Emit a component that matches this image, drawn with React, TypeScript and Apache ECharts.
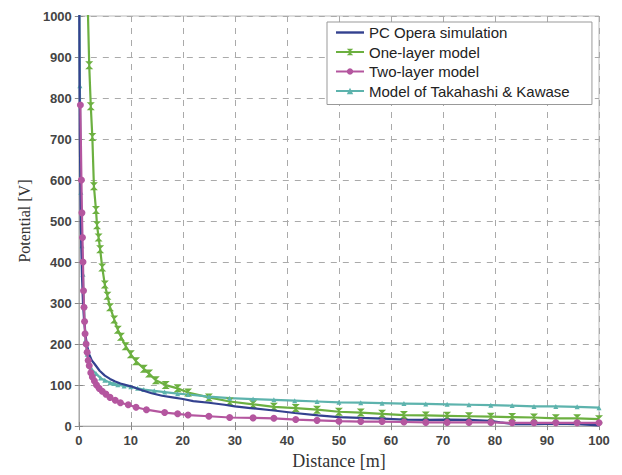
import React, { useEffect, useRef } from "react";
import * as echarts from "echarts";

const seriesNames = [
  "PC Opera simulation",
  "One-layer model",
  "Two-layer model",
  "Model of Takahashi & Kawase",
];

const xTicks = [0, 10, 20, 30, 40, 50, 60, 70, 80, 90, 100];
const yTicks = [0, 100, 200, 300, 400, 500, 600, 700, 800, 900, 1000];

const operaX = [0.05, 0.2, 0.4, 0.6, 0.8, 1.0, 1.3, 1.6, 2.0, 2.5, 3, 4, 5, 6, 7, 8, 10, 12, 14, 16, 18, 20, 22, 25, 28, 30, 33, 37.5, 41.5, 46, 50, 54, 58.5, 62.5, 66.7, 71, 75, 79, 81, 83.5, 87.5, 91.7, 96, 100];
const operaY = [1150, 700, 480, 370, 300, 260, 220, 195, 175, 160, 152, 135, 123, 115, 109, 104, 97, 88, 80, 74, 70, 66, 61, 57, 52, 48, 44, 38, 32, 26, 22, 20, 18, 16, 15, 16, 15, 13, 9, 5, 5, 6, 5, 2];

const oneX = [1.65, 2.0, 2.3, 2.6, 2.9, 3.3, 3.5, 3.8, 4.1, 4.5, 5.0, 5.5, 6.0, 6.8, 7.5, 8.1, 9.0, 10, 11, 12.5, 13.5, 14.8, 16.7, 19, 21, 25, 29, 33.5, 37.5, 41.7, 45.8, 50, 54.2, 58.3, 62.5, 66.7, 70.8, 75, 79.2, 83.3, 87.5, 91.7, 95.8, 100];
const oneY = [1060, 880, 780, 705, 585, 527, 490, 460, 431, 387, 345, 318, 290, 260, 235, 218, 195, 175, 158, 140, 128, 112, 100, 92, 82, 70, 60, 53, 47, 44, 40, 35, 33, 30, 27, 26, 25, 24, 23, 22, 21, 19, 19, 17];

const twoX = [0.3, 0.5, 0.6, 0.7, 0.8, 0.9, 1.0, 1.1, 1.2, 1.4, 1.6, 1.8, 2.0, 2.3, 2.6, 3.0, 3.4, 3.9, 4.5, 5.2, 6.0, 7.0, 8.0, 9.5, 11, 13, 16.5, 19, 21, 25, 29, 33.5, 37.5, 41.7, 45.8, 50, 54.2, 58.3, 62.5, 66.7, 70.8, 75, 79.2, 83.3, 87.5, 91.7, 95.8, 100];
const twoY = [783, 600, 520, 460, 400, 330, 290, 255, 225, 200, 180, 160, 147, 130, 120, 110, 100, 92, 85, 78, 70, 63, 57, 52, 46, 40, 33, 30, 27, 24, 21, 20, 19, 16, 14, 12, 11, 11, 10, 9, 9, 9, 9, 8, 8, 8, 8, 8];

const takX = [0.05, 0.2, 0.4, 0.6, 0.8, 1.0, 1.3, 1.6, 2.0, 2.5, 3.3, 4.2, 5, 6, 6.7, 7.5, 8.7, 10, 11.3, 12.5, 14.5, 16.5, 19, 21, 25, 29, 33.5, 37.5, 41.5, 45.8, 50, 54.2, 58.3, 62.5, 66.7, 70.8, 75, 79.2, 83.3, 87.5, 91.7, 95.8, 100];
const takY = [1150, 830, 570, 440, 370, 290, 210, 175, 150, 138, 128, 117, 112, 106, 104, 101, 98, 96, 92, 89, 86, 83, 79, 77, 72, 68, 66, 64, 62, 60, 58, 57, 56, 55, 54, 53, 52, 51, 50, 48, 48, 47, 45];

const colors = ["#33418f", "#6cb040", "#b4569f", "#5db3ad"];

const pairs = (xs: number[], ys: number[]) => xs.map((x, i) => [x, ys[i]]);

const bowtie = "path://M0,0L10,0L5,5L10,10L0,10L5,5Z";
const lineIcon = "path://M0,0L28,0L28,2.4L0,2.4Z";

export default function App() {
  const ref = useRef<HTMLDivElement>(null);
  useEffect(() => {
    if (!ref.current) return;
    const chart = echarts.init(ref.current, undefined, { renderer: "svg" });
    const tickLabel = { color: "#444", fontSize: 13, fontWeight: "bold" as const, fontFamily: "Liberation Sans, Arial, sans-serif" };
    const axisLine = { show: true, lineStyle: { color: "#aaa", width: 1 } };
    const axisTick = { show: true, inside: true, length: 4, lineStyle: { color: "#888" } };
    const splitLine = { show: true, lineStyle: { color: "#aaa", type: [6, 6] as any, width: 1 } };
    chart.setOption({
      animation: false,
      backgroundColor: "#fff",
      grid: { left: 70, right: 23, top: 8, bottom: 48, show: true, borderColor: "#bbb", borderWidth: 1, backgroundColor: "#fff" },
      legend: {
        orient: "vertical",
        left: 319,
        top: 14,
        data: [
          { name: seriesNames[0], icon: lineIcon },
          { name: seriesNames[1] },
          { name: seriesNames[2] },
          { name: seriesNames[3] },
        ],
        itemWidth: 28,
        itemHeight: 8,
        itemGap: 4.5,
        itemStyle: { borderWidth: 0 },
        padding: [3, 22, 6, 8],
        borderColor: "#999",
        borderWidth: 1,
        backgroundColor: "#fff",
        textStyle: { fontSize: 15, color: "#222", fontFamily: "Liberation Sans, Arial, sans-serif" },
      },
      xAxis: [
        {
          type: "value", min: 0, max: 100, interval: 10,
          name: "Distance [m]", nameLocation: "middle", nameGap: 25,
          nameTextStyle: { fontSize: 18, color: "#333", fontFamily: "Liberation Serif, Times New Roman, serif" },
          axisLabel: { ...tickLabel, margin: 8, formatter: (v: number) => (xTicks.includes(v) ? String(v) : "") },
          axisLine, axisTick, splitLine,
        },
        {
          type: "value", min: 0, max: 100, interval: 10, position: "top",
          axisLabel: { show: false }, axisLine, axisTick, splitLine: { show: false },
        },
      ],
      yAxis: [
        {
          type: "value", min: 0, max: 1000, interval: 100,
          name: "Potential [V]", nameLocation: "middle", nameGap: 46,
          nameTextStyle: { fontSize: 16, color: "#333", fontFamily: "Liberation Serif, Times New Roman, serif" },
          axisLabel: { ...tickLabel, margin: 7, formatter: (v: number) => (yTicks.includes(v) ? String(v) : "") },
          axisLine, axisTick, splitLine,
        },
        {
          type: "value", min: 0, max: 1000, interval: 100, position: "right",
          axisLabel: { show: false }, axisLine, axisTick, splitLine: { show: false },
        },
      ],
      series: [
        {
          name: seriesNames[0], type: "line", data: pairs(operaX, operaY),
          symbol: "none", lineStyle: { color: colors[0], width: 2.2 }, itemStyle: { color: colors[0] }, z: 3,
        },
        {
          name: seriesNames[1], type: "line", data: pairs(oneX, oneY),
          symbol: bowtie, symbolSize: 8, lineStyle: { color: colors[1], width: 2.2 }, itemStyle: { color: colors[1] }, z: 2,
        },
        {
          name: seriesNames[2], type: "line", data: pairs(twoX, twoY),
          symbol: "circle", symbolSize: 7, lineStyle: { color: colors[2], width: 2.2 }, itemStyle: { color: colors[2] }, z: 4,
        },
        {
          name: seriesNames[3], type: "line", data: pairs(takX, takY),
          symbol: "triangle", symbolSize: 5, lineStyle: { color: colors[3], width: 2.2 }, itemStyle: { color: colors[3] }, z: 2,
        },
      ],
    });
    return () => chart.dispose();
  }, []);
  return <div ref={ref} style={{ width: 614, height: 467 }} />;
}
